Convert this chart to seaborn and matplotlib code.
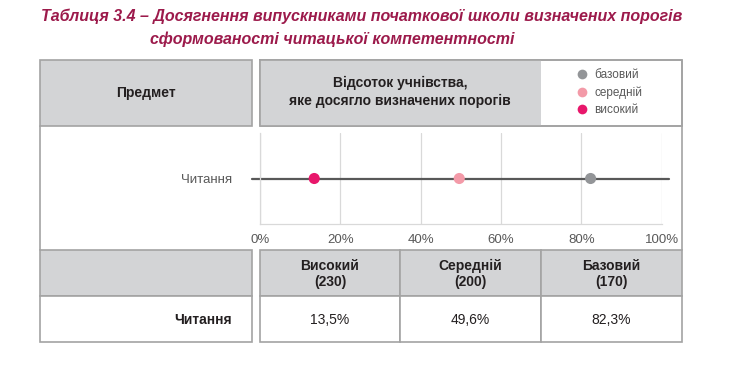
import matplotlib
matplotlib.use("Agg")
import matplotlib.pyplot as plt
import seaborn as sns
import pandas as pd
from matplotlib.patches import Rectangle

# data
subject = "Читання"
levels = ["високий", "середній", "базовий"]
level_titles = ["Високий", "Середній", "Базовий"]
thresholds = [230, 200, 170]
values = [13.5, 49.6, 82.3]
level_colors = ["#e8176b", "#f39aa8", "#939598"]
x_ticks = [0, 20, 40, 60, 80, 100]

title_1 = "Таблиця 3.4 – Досягнення випускниками початкової школи визначених порогів"
title_2 = "сформованості читацької компетентності"

df = pd.DataFrame({"subject": subject, "level": levels, "value": values})

sns.set_style("white")
plt.rcParams["font.family"] = ["Liberation Sans", "DejaVu Sans"]

W, H = 739, 367
fig = plt.figure(figsize=(W / 100, H / 100), dpi=100)

# background layer in pixel coordinates (origin top-left)
bg = fig.add_axes([0, 0, 1, 1], zorder=0)
bg.set_xlim(0, W)
bg.set_ylim(H, 0)
bg.axis("off")

fill = "#d3d4d6"
edge = "#a3a3a3"
lw = 1.2


def cell(x0, y0, x1, y1, color="white", border=True):
    bg.add_patch(Rectangle((x0, y0), x1 - x0, y1 - y0, facecolor=color,
                           edgecolor=edge if border else "none", linewidth=lw))


# header row
cell(40, 60, 252, 126, fill)
cell(260, 60, 682, 126, "white")
cell(260, 60, 541, 126, fill, border=False)
bg.plot([260, 682, 682, 260, 260], [60, 60, 126, 126, 60], color=edge, lw=lw)

# middle band sides
bg.plot([40, 40], [126, 250], color=edge, lw=lw)
bg.plot([682, 682], [126, 250], color=edge, lw=lw)

# bottom table
cols = [(260, 400), (400, 541), (541, 682)]
cell(40, 250, 252, 296, fill)
cell(40, 296, 252, 342, "white")
for (x0, x1), name, thr, val in zip(cols, level_titles, thresholds, values):
    cell(x0, 250, x1, 296, fill)
    cell(x0, 296, x1, 342, "white")
    bg.text((x0 + x1) / 2, 274, f"{name}\n({thr})", ha="center", va="center",
            fontsize=10, fontweight="bold", color="#231f20", linespacing=1.2)
    bg.text((x0 + x1) / 2, 320, f"{val:.1f}%".replace(".", ","), ha="center",
            va="center", fontsize=10, color="#231f20")
bg.text(232, 320, subject, ha="right", va="center", fontsize=10,
        fontweight="bold", color="#231f20")

# header texts
bg.text(146, 93, "Предмет", ha="center", va="center", fontsize=10,
        fontweight="bold", color="#231f20")
bg.text(400, 92, "Відсоток учнівства,\nяке досягло визначених порогів",
        ha="center", va="center", fontsize=10, fontweight="bold",
        color="#231f20", linespacing=1.3)

# title
title_kw = dict(fontsize=11.5, fontweight="bold", fontstyle="italic",
                color="#9c1a4b", va="center", ha="left",
                family=["Liberation Sans Narrow", "Liberation Sans", "DejaVu Sans"])
bg.text(41, 16, title_1, **title_kw)
bg.text(150, 39, title_2, **title_kw)

# dot plot
ax = fig.add_axes([260 / W, (H - 224) / H, (661.7 - 260) / W, (224 - 133) / H],
                  zorder=2)
ax.patch.set_alpha(0)
ax.axhline(0, xmin=-0.02, xmax=1.017, color="#585858", lw=1.6, clip_on=False,
           zorder=1)
sns.scatterplot(data=df, x="value", y=0, hue="level",
                hue_order=levels[::-1], palette=dict(zip(levels, level_colors)),
                s=64, linewidth=0, ax=ax, zorder=3, clip_on=False)
ax.set_xlim(0, 100)
ax.set_ylim(-1, 1)
ax.set_xticks(x_ticks)
ax.set_xticklabels([f"{t}%" for t in x_ticks])
ax.set_yticks([0])
ax.set_yticklabels([subject])
ax.set_xlabel("")
ax.set_ylabel("")
ax.grid(True, axis="x", color="#d9d9d9", lw=0.9)
ax.tick_params(axis="x", length=0, pad=7, labelsize=9.5, labelcolor="#595959")
ax.tick_params(axis="y", length=0, pad=20, labelsize=9.5, labelcolor="#595959")
for side in ["top", "right"]:
    ax.spines[side].set_visible(False)
for side in ["left", "bottom"]:
    ax.spines[side].set_color("#d9d9d9")
    ax.spines[side].set_linewidth(0.9)

sns.move_legend(ax, loc="upper left", bbox_to_anchor=(576 / W, 1 - 69 / H),
                bbox_transform=fig.transFigure, frameon=False, title=None,
                fontsize=8.5, borderpad=0, borderaxespad=0, handlelength=1.0,
                handletextpad=0.55, labelspacing=0.45)
leg = ax.get_legend()
for t in leg.get_texts():
    t.set_color("#595959")
for h in leg.legend_handles:
    try:
        h.set_markersize(7)
    except AttributeError:
        h.set_sizes([45])

fig.savefig("out.png", dpi=100)
